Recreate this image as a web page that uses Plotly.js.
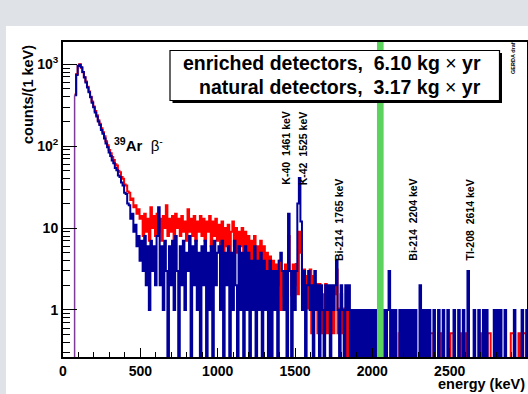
<!DOCTYPE html>
<html><head><meta charset="utf-8">
<script src="https://cdn.plot.ly/plotly-3.0.1.min.js"></script>
<style>
html,body{margin:0;padding:0;background:#dfe3e8;width:528px;height:394px;overflow:hidden}
#plot{position:absolute;left:6px;top:26px;width:522px;height:368px;background:#fff}
</style></head><body><div id="plot"></div>
<script>
// ---- data: counts per 1 keV in 10 keV steps ----
const binStart = 75;      // keV, lower edge of the first bin
const binWidth = 10;      // keV
// natural detectors (red)
const redCounts = [
 430,760,960,1000,910,800,700,615,530,465,
 400,350,305,268,238,208,188,166,148,132,
 115,103,90,82,74,68,60,58,50,48,
 42,40,34,33,28,27,22,23,18,19,
 15,17,13,
 14,8,15,9,13,7,18,10,14,8,
 15,9,13,7,14,10,19,8,13,9,
 14,7,15,10,13,8,14,9,12,7,
 17,9,13,8,14,7,12,9,14,8,
 13,7,12,9,14,6,12,8,13,7,
 11,6,12,5,10,6,11,5,9,12,
 6,10,5,9,6,10,4,9,5,8,
 4,7,3,8,4,6,3,7,4,6,
 3,5,2,4.5,2,4,1.5,3.6,2,4,
 1,3,1.5,3.6,1,8,3,1.5,3.6,2,
 3.64,1.56,9,5,2.08,3.12,1.04,2.6,1.04,3.12,
 0.52,2.6,1.04,2.08,0.52,2.08,0.52,1.56,0.52,2.08,
 0.52,1.56,0.52,1.04,0.52,1.56,3.12,0.52,1.04,1.56,
 0.52,1.04,0,1.56,0,0,0,0,0,0,
 0,0,0,0,0.52,0,0,0,0,0,
 0,0,0,0,0,0,0,0.52,0.52,0,
 0,0,0,0.52,0.52,0,0,0.52,0.52,0,
 0.52,0,0,0,0,0,0.52,0,0,0,
 0,0,0,0,0,0,0,0.52,0.52,0,
 0,0,0.52,0.52,0,0,0,0,0,0,
 0.52,0.52,0,0,0,0,0.52,0,0,0,
 0.52,0,0,0,0,0,0,0,0,0.52,
 0,0,0,0,0.52,0.52,0,0,0,0,
 0.52,0.52,0,0,0,0,0,0,0,0.52,
 0.52,0,0,0,0.52,0,0,0.52,0.52,0
];
// enriched detectors (blue)
const blueCounts = [
 420,740,950,990,920,805,690,600,520,455,
 395,340,298,258,230,200,182,158,142,124,
 108,97,84,76,67,62,54,51,44,42,
 36,33,27,26,20,19,13,15,9,11,
 6,8,4,
 7,3,8,2,6,1,7,3,6,2,
 8,18,2,6,1,7,3,0,6,2,
 7,1,8,3,0,6,2,7,1,5,
 3,8,0,6,2,7,1,5,0,6,
 2,7,0,5,1,6,0,7,2,5,
 6,1,7,0,5,2,6,0,5,1,
 7,2,0,6,1,5,0,6,1,5,
 0,4,1,6,0,4,1,5,0,4,
 1,3,0,4,0,3,1,3,0,4,
 5,3,1,3,0,15,3,0,3,1,
 3,20,41,12,1,3,0,2,3,1,
 2,0,3,1,2,0,2,1,0,2,
 1,2,0,2,1,2,4,1,0,2,
 1,0,2,1,2,0,1,0,1,0,
 1,0,1,0,1,0,1,0,1,0,
 1,0,1,0,0,0,0,1,0,1,
 3,0,1,0,1,0,0,1,0,1,
 0,1,0,1,0,1,0,1,0,0,
 2,0,1,0,1,0,1,0,0,1,
 0,0,1,0,0,1,0,0,1,0,
 0,0,1,0,0,1,0,0,1,0,
 0,3,0,0,0,1,0,0,1,0,
 0,1,0,1,0,0,0,0,1,0,
 1,0,1,0,0,1,0,0,0,0,
 0,1,0,0,0,0,1,0,0,1
];
const blindLo = 2030, blindHi = 2073;   // keV, blinded window (green)
const xTicks = [0,500,1000,1500,2000,2500];
const yTicks = [1,10,100,1000];
const yTickText = ['1','10','10<sup>2</sup>','10<sup>3</sup>'];
const peakLabels = ['K-40\u00a0 1461 keV','K-42\u00a0 1525 keV','Bi-214\u00a0 1765 keV','Bi-214\u00a0 2204 keV','Tl-208\u00a0 2614 keV'];
const exposureLines = ['enriched detectors,\u00a0 6.10 kg','natural detectors,\u00a0 3.17 kg'];

// ---- drawing ----
const FLOOR = 0.05;  // zero bins drawn below the axis bottom
function stepX(arr){const x=arr.map((_,i)=>binStart+i*binWidth);x.push(binStart+arr.length*binWidth);return x;}
function stepY(arr){const y=arr.map(v=>v>0?v:FLOOR);y.push(y[y.length-1]);return y;}

const traces = [
 {x:stepX(redCounts),y:stepY(redCounts),mode:'lines',line:{shape:'hv',width:2,color:'#ff0000',simplify:false},hoverinfo:'skip'},
 {x:stepX(blueCounts),y:stepY(blueCounts),mode:'lines',line:{shape:'hv',width:2,color:'#000099',simplify:false},hoverinfo:'skip'},
 {x:[binStart,binStart],y:[FLOOR,Math.min(redCounts[0],blueCounts[0])],mode:'lines',line:{width:1.5,color:'#7d3c98'},hoverinfo:'skip'}
];

// page-pixel helpers (plot area: x 63..527, y 42..357 on the page)
const L=63,W=464,T=42,H=315;
const xp=px=>(px-L)/W, yp=py=>(T+H-py)/H;

const minorX=[];for(let v=100;v<=3000;v+=100){if(v%500)minorX.push(v);}
const minorY=[];[0.1,1,10,100].forEach(d=>{for(let k=2;k<=9;k++)minorY.push(k*d);});

const tf={family:'Liberation Sans, Arial, sans-serif',size:14,color:'#000',weight:'bold'};
const fb=(s)=>({family:'Liberation Sans, Arial, sans-serif',size:s,color:'#000',weight:'bold'});
const fn=(s)=>({family:'Liberation Sans, Arial, sans-serif',size:s,color:'#000'});

const peakPos=[[285.7,187],[303.3,187],[339,263],[412.7,263],[470,263]];
const annotations=[
 {xref:'paper',yref:'paper',x:xp(27.5),y:yp(43),xanchor:'center',yanchor:'top',textangle:-90,text:'counts/(1 keV)',font:fb(14.5),showarrow:false},
 {xref:'paper',yref:'paper',x:xp(527),y:yp(384),xanchor:'right',yanchor:'middle',text:'energy (keV)',font:fb(14.5),showarrow:false},
 {xref:'paper',yref:'paper',x:xp(112),y:yp(145),xanchor:'left',yanchor:'middle',text:'<b><sup>39</sup>Ar</b>\u00a0\u00a0β<sup>-</sup>',font:fn(15),showarrow:false},
 {xref:'paper',yref:'paper',x:xp(513),y:yp(57),xanchor:'center',yanchor:'middle',textangle:-90,text:'GERDA draft',font:fb(5.5),showarrow:false},
];
peakLabels.forEach((t,i)=>annotations.push({xref:'paper',yref:'paper',x:xp(peakPos[i][0]),y:yp(peakPos[i][1]),xanchor:'center',yanchor:'bottom',textangle:-90,text:t,font:fb(10.5),showarrow:false}));
[63.3,87.3].forEach((py,i)=>annotations.push({xref:'paper',yref:'paper',x:xp(483),y:yp(py),xanchor:'right',yanchor:'middle',text:'<b>'+exposureLines[i]+'</b> \u00d7 <b>yr</b>',font:fn(19.5),showarrow:false}));

const shapes=[
 {type:'rect',xref:'x',yref:'paper',x0:blindLo,x1:blindHi,y0:0,y1:1,fillcolor:'#5cd35c',line:{width:0},layer:'above'},
 {type:'rect',xref:'paper',yref:'paper',x0:xp(172.5),x1:xp(502),y0:yp(103),y1:yp(53),fillcolor:'#000',line:{width:0},layer:'above'},
 {type:'rect',xref:'paper',yref:'paper',x0:xp(170),x1:xp(499.5),y0:yp(100.5),y1:yp(50.5),fillcolor:'#fff',line:{width:1.2,color:'#000'},layer:'above'}
];

const layout={
 width:522,height:368,margin:{l:57,r:1,t:16,b:37},
 paper_bgcolor:'#fff',plot_bgcolor:'#fff',showlegend:false,
 xaxis:{range:[0,3000],tickmode:'array',tickvals:xTicks,ticks:'inside',ticklen:9,tickwidth:1,tickcolor:'#000',
   showline:true,linewidth:2,linecolor:'#000',mirror:true,showgrid:false,zeroline:false,tickfont:tf,
   minor:{tickmode:'array',tickvals:minorX,ticks:'inside',ticklen:5,tickwidth:1,tickcolor:'#000',showgrid:false}},
 yaxis:{type:'log',range:[-0.574,3.272],tickmode:'array',tickvals:yTicks,ticktext:yTickText,ticks:'inside',ticklen:14,tickwidth:1,tickcolor:'#000',
   showline:true,linewidth:2,linecolor:'#000',mirror:true,showgrid:false,zeroline:false,tickfont:tf,
   minor:{tickmode:'array',tickvals:minorY,ticks:'inside',ticklen:7,tickwidth:1,tickcolor:'#000',showgrid:false}},
 annotations:annotations,shapes:shapes
};
Plotly.newPlot('plot',traces,layout,{staticPlot:true,displayModeBar:false});
</script></body></html>
